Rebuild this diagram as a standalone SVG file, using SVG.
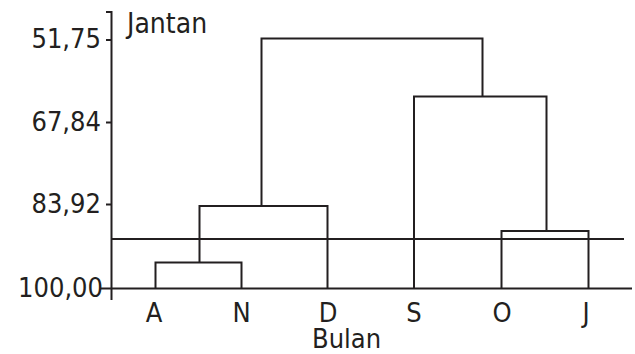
<svg xmlns="http://www.w3.org/2000/svg" width="635" height="354" viewBox="0 0 635 354">
  <style>
    .ln { fill: none; stroke: #231f20; stroke-width: 2; }
    text { font-family: "DejaVu Sans Condensed", "DejaVu Sans", sans-serif; font-size: 27px; fill: #231f20; }
    .tick { text-anchor: end; }
    .leaf { text-anchor: middle; }
  </style>
  <rect width="635" height="354" fill="#ffffff"/>

  <g id="axes">
    <path class="ln" d="M106 12 H111.5 V300"/>
    <path class="ln" d="M100 288.5 H632"/>
    <path class="ln" d="M106 40 H111.5 M106 122.5 H111.5 M106 204.5 H111.5"/>
    <text class="tick" x="101" y="48">51,75</text>
    <text class="tick" x="101" y="131">67,84</text>
    <text class="tick" x="101" y="213">83,92</text>
    <text class="tick" x="103" y="297">100,00</text>
    <text x="127" y="33" style="font-size:28px">Jantan</text>
    <text x="312" y="348">Bulan</text>
  </g>

  <g id="leaf-A"><text class="leaf" x="154" y="322">A</text></g>
  <g id="leaf-N"><text class="leaf" x="241.5" y="322">N</text></g>
  <g id="leaf-D"><text class="leaf" x="328" y="322">D</text></g>
  <g id="leaf-S"><text class="leaf" x="414" y="322">S</text></g>
  <g id="leaf-O"><text class="leaf" x="502" y="322">O</text></g>
  <g id="leaf-J"><text class="leaf" x="586" y="322">J</text></g>

  <g id="connectors">
    <!-- A–N -->
    <path class="ln" d="M155.5 288.5 V262.5 H241.5 V288.5"/>
    <!-- (A,N)–D -->
    <path class="ln" d="M199.5 262.5 V206 H327.5 V288.5"/>
    <!-- O–J -->
    <path class="ln" d="M501.5 288.5 V231 H588.5 V288.5"/>
    <!-- S–(O,J) -->
    <path class="ln" d="M414 288.5 V96.5 H546.5 V231"/>
    <!-- root -->
    <path class="ln" d="M261.5 206 V38.5 H482.5 V96.5"/>
    <!-- cut level -->
    <path class="ln" d="M111.5 239 H624"/>
  </g>
</svg>
